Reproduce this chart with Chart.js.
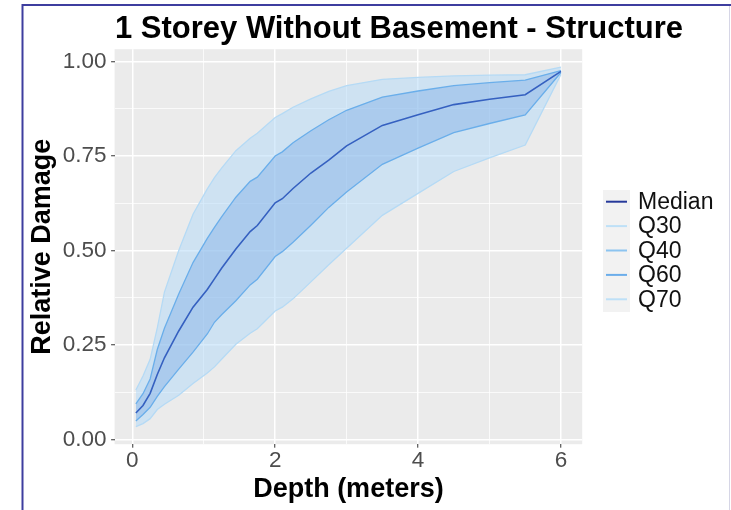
<!DOCTYPE html>
<html><head><meta charset="utf-8">
<script src="https://cdn.jsdelivr.net/npm/chart.js@4"></script>
<style>html,body{margin:0;padding:0;background:#fff;}canvas{display:block;}</style>
</head><body>
<canvas id="c" width="731" height="510"></canvas>
<script>
const depth  = [0.05,0.15,0.25,0.35,0.45,0.65,0.85,1.05,1.15,1.25,1.45,1.65,1.75,2.0,2.1,2.25,2.5,2.75,3.0,3.5,4.0,4.5,5.0,5.5,6.0];
const median = [0.070,0.090,0.122,0.172,0.216,0.287,0.350,0.397,0.425,0.453,0.504,0.550,0.566,0.626,0.637,0.664,0.705,0.739,0.777,0.831,0.859,0.886,0.900,0.912,0.974];
const q30    = [0.034,0.042,0.055,0.079,0.093,0.117,0.148,0.176,0.192,0.212,0.252,0.281,0.293,0.340,0.350,0.372,0.417,0.462,0.506,0.593,0.651,0.709,0.745,0.779,0.966];
const q40    = [0.049,0.066,0.085,0.114,0.140,0.186,0.231,0.279,0.310,0.330,0.367,0.409,0.424,0.484,0.497,0.522,0.567,0.614,0.655,0.728,0.771,0.812,0.836,0.859,0.971];
const q60    = [0.094,0.121,0.160,0.238,0.294,0.385,0.468,0.532,0.561,0.589,0.641,0.683,0.694,0.750,0.761,0.785,0.817,0.846,0.871,0.906,0.922,0.936,0.944,0.951,0.976];
const q70    = [0.131,0.168,0.212,0.295,0.390,0.500,0.596,0.663,0.693,0.718,0.764,0.797,0.810,0.852,0.862,0.879,0.901,0.921,0.936,0.953,0.958,0.962,0.964,0.965,0.985];

const seriesNames = ['Median','Q30','Q40','Q60','Q70'];
const xTickValues = [0,1,2,3,4,5,6];
const xTickLabels = ['0','','2','','4','','6'];
const yTickValues = [0,0.125,0.25,0.375,0.5,0.625,0.75,0.875,1];
const yTickLabels = ['0.00','','0.25','','0.50','','0.75','','1.00'];
const titleText = '1 Storey Without Basement - Structure';
const xTitleText = 'Depth (meters)';
const yTitleText = 'Relative Damage';

const FONT = "'Liberation Sans', Arial, sans-serif";
const lineColors = {Median:'#3560C0', Q30:'#B5DAF5', Q40:'#6AAEEA', Q60:'#6AAEEA', Q70:'#B5DAF5'};
const legendColors = {Median:'#26399A', Q30:'#BEE0F7', Q40:'#8CC4F0', Q60:'#6BADEA', Q70:'#BEE0F7'};

const pts = arr => depth.map((d,i)=>({x:d, y:arr[i]}));

const isMajorX = v => Math.abs(v/2 - Math.round(v/2)) < 1e-6;
const isMajorY = v => Math.abs(v*4 - Math.round(v*4)) < 1e-6;

const bgPlugin = {
  id:'bg',
  beforeDraw(chart){
    const {ctx, chartArea:a} = chart;
    ctx.save();
    ctx.fillStyle = '#FFFFFF';
    ctx.fillRect(0,0,chart.width,chart.height);
    ctx.fillStyle = '#EBEBEB';
    ctx.fillRect(a.left,a.top,a.right-a.left,a.bottom-a.top);
    ctx.restore();
  },
  afterDraw(chart){
    const ctx = chart.ctx;
    ctx.save();
    // title
    ctx.fillStyle = '#000';
    ctx.font = "bold 31px " + FONT;
    ctx.textAlign = 'center';
    ctx.textBaseline = 'alphabetic';
    ctx.fillText(titleText, 399, 38.3);
    // legend
    ctx.fillStyle = '#F2F2F2';
    ctx.fillRect(603,190,27,122);
    ctx.font = "23px " + FONT;
    ctx.textAlign = 'left';
    ctx.textBaseline = 'middle';
    seriesNames.forEach((n,i)=>{
      const y = 201.7 + i*24.4;
      ctx.strokeStyle = legendColors[n];
      ctx.lineWidth = 2;
      ctx.beginPath(); ctx.moveTo(606,y); ctx.lineTo(627,y); ctx.stroke();
      ctx.fillStyle = '#111';
      ctx.fillText(n, 638, y+1);
    });
    // frame
    ctx.strokeStyle = '#3E3E9F';
    ctx.lineWidth = 2;
    ctx.beginPath();
    ctx.moveTo(22.5,510); ctx.lineTo(22.5,5); ctx.lineTo(731,5);
    ctx.stroke();
    ctx.strokeStyle = '#D6D6E6';
    ctx.lineWidth = 1;
    ctx.beginPath(); ctx.moveTo(729.5,6); ctx.lineTo(729.5,510); ctx.stroke();
    ctx.restore();
  }
};

new Chart(document.getElementById('c'), {
  type:'line',
  data:{
    datasets:[
      {label:'Median', data:pts(median), borderColor:lineColors.Median, borderWidth:1.6, pointRadius:0, fill:false},
      {label:'Q60', data:pts(q60), borderColor:lineColors.Q60, borderWidth:1.3, pointRadius:0, fill:2, backgroundColor:'rgba(125,173,230,0.43)'},
      {label:'Q40', data:pts(q40), borderColor:lineColors.Q40, borderWidth:1.3, pointRadius:0, fill:false},
      {label:'Q70', data:pts(q70), borderColor:lineColors.Q70, borderWidth:1.3, pointRadius:0, fill:4, backgroundColor:'rgba(183,219,247,0.55)'},
      {label:'Q30', data:pts(q30), borderColor:lineColors.Q30, borderWidth:1.3, pointRadius:0, fill:false}
    ]
  },
  options:{
    responsive:false, animation:false, devicePixelRatio:1,
    layout:{padding:{top:49.2,right:148.8,bottom:0,left:0}},
    elements:{line:{tension:0}},
    plugins:{legend:{display:false}, title:{display:false}, tooltip:{enabled:false}, filler:{drawTime:'beforeDatasetsDraw'}},
    scales:{
      x:{
        type:'linear', min:-0.2475, max:6.2975,
        afterBuildTicks:s=>{ s.ticks = xTickValues.map(v=>({value:v})); },
        afterFit:s=>{ s.height = 65.8; },
        border:{display:false},
        grid:{color:'#FFFFFF', lineWidth:c=>isMajorX(c.tick.value)?1.5:0.75,
              tickColor:c=>isMajorX(c.tick.value)?'#333333':'rgba(0,0,0,0)', tickWidth:1, tickLength:3.5, drawTicks:true},
        ticks:{autoSkip:false, maxRotation:0, padding:0, color:'#4D4D4D', font:{size:22.5,family:FONT},
               callback:(v,i)=>xTickLabels[i]},
        title:{display:true, text:xTitleText, color:'#000', font:{size:27,weight:'bold',family:FONT}, padding:{top:0,bottom:3.9}}
      },
      y:{
        type:'linear', min:-0.0126, max:1.0326,
        afterBuildTicks:s=>{ s.ticks = yTickValues.map(v=>({value:v})); },
        afterFit:s=>{ s.width = 114.6; },
        border:{display:false},
        grid:{color:'#FFFFFF', lineWidth:c=>isMajorY(c.tick.value)?1.5:0.75,
              tickColor:c=>isMajorY(c.tick.value)?'#333333':'rgba(0,0,0,0)', tickWidth:1, tickLength:3.5, drawTicks:true},
        ticks:{autoSkip:false, padding:4.5, color:'#4D4D4D', font:{size:22.5,family:FONT},
               callback:(v,i)=>yTickLabels[i]},
        title:{display:true, text:yTitleText, color:'#000', font:{size:27,weight:'bold',family:FONT}, padding:{top:26.5,bottom:0}}
      }
    }
  },
  plugins:[bgPlugin]
});
</script>
</body></html>
